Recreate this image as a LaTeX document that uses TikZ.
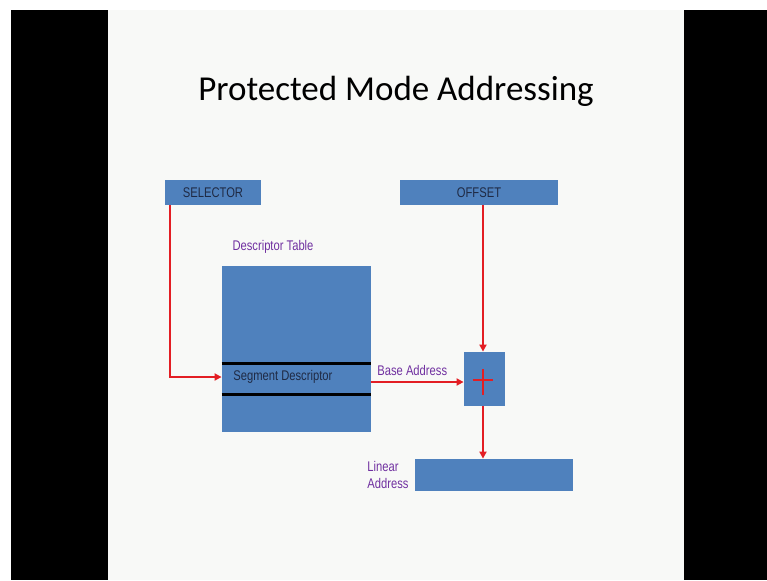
\documentclass[tikz,border=0pt]{standalone}
\usepackage{fontspec}
\setmainfont{Carlito}
\newfontfamily\narrowsf[FakeStretch=0.8]{Liberation Sans}
\usetikzlibrary{arrows.meta, positioning, calc}
\definecolor{slideBg}{HTML}{F8F9F7}
\definecolor{boxBlue}{HTML}{4F81BD}
\definecolor{boxText}{HTML}{1F2A44}
\definecolor{labelPurple}{HTML}{7030A0}
\definecolor{arrowRed}{HTML}{E31E24}

\begin{document}
\begin{tikzpicture}[x=0.5pt, y=-0.5pt,
    every node/.style={font=\narrowsf\fontsize{7}{8.4}\selectfont, inner sep=0pt},
    blockbox/.style={fill=boxBlue, draw=none, text=boxText},
    tag/.style={text=labelPurple},
    feed/.style={draw=arrowRed, line width=1pt, -{Triangle[length=3.5pt, width=3.5pt]}}]
  \useasboundingbox (0,0) rectangle (767,580);
  % frame round the slide
  \fill[black] (11,10) rectangle (108,580);
  \fill[black] (684,10) rectangle (767,580);
  \fill[slideBg] (108,10) rectangle (684,580);

  \node[anchor=base, font=\fontsize{17.5}{21}\selectfont] (title) at (396,100) {Protected Mode Addressing};

  \node[blockbox, minimum width=48pt, minimum height=12.5pt] (selector) at (213,192.5) {SELECTOR};
  \node[blockbox, minimum width=79pt, minimum height=12.5pt] (offset) at (479,192.5) {OFFSET};

  \node[tag] (tablelbl) at (273,247) {Descriptor Table};
  \node[blockbox, minimum width=74.5pt, minimum height=83pt] (dtable) at (296.5,349) {};
  \node[text=boxText, anchor=west] (segdesc) at (233,377) {Segment Descriptor};
  \draw[line width=1.5pt, black] (dtable.west |- 0,363) -- (dtable.east |- 0,363);
  \draw[line width=1.5pt, black] (dtable.west |- 0,394) -- (dtable.east |- 0,394);

  \node[blockbox, minimum width=20.5pt, minimum height=27pt] (adder) at (484.5,379) {};
  \draw[arrowRed, line width=1pt] ($(adder.center)+(-12,1)$) -- ($(adder.center)+(8,1)$);
  \draw[arrowRed, line width=1pt] ($(adder.center)+(-2,-10)$) -- ($(adder.center)+(-2,16)$);

  \node[blockbox, minimum width=79pt, minimum height=16pt] (linear) at (494,475) {};
  \node[tag, align=left, anchor=north west] (linearlbl) at (367,461) {Linear\\Address};

  % connectors
  \draw[feed] ($(selector.south west)+(5,0)$) |- (dtable.west |- segdesc);
  \draw[feed] (offset.south -| 483,0) -- (adder.north -| 483,0);
  \draw[feed] (dtable.east |- 0,382) -- (adder.west |- 0,382);
  \node[tag, anchor=west] (baselbl) at (377,370) {Base Address};
  \draw[feed] (adder.south -| 483,0) -- (linear.north -| 483,0);
\end{tikzpicture}
\end{document}
